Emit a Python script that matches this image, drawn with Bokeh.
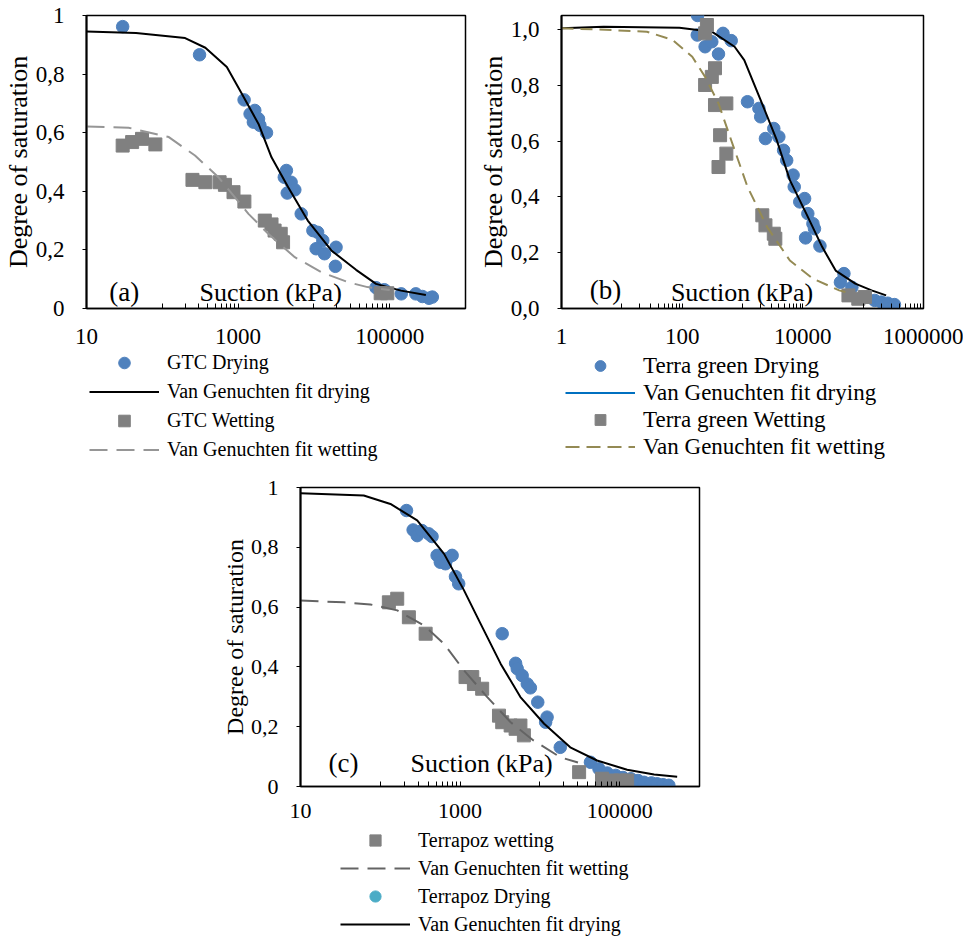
from bokeh.plotting import figure
from bokeh.models import (FixedTicker, Label, Legend, LegendItem, Range1d, Spacer,
                          CustomJSTickFormatter)
from bokeh.layouts import column, row
from bokeh.embed import file_html
from bokeh.resources import INLINE

FONT = "Liberation Serif"
BLUE = "#4F81BD"
GRAY = "#808080"

# ---------------- Panel (a): GTC ----------------
a_dry_x = [30, 310, 1200, 1440, 1660, 1860, 1590, 1940, 2370, 4340, 4070, 5000, 5600, 4450, 6800,
           9700, 11200, 13100, 10700, 13800, 19600, 19200, 66000, 85000, 142000, 221000, 270000,
           330000, 365000]
a_dry_y = [0.962, 0.866, 0.712, 0.664, 0.676, 0.647, 0.636, 0.625, 0.600, 0.471, 0.448, 0.431,
           0.405, 0.394, 0.323, 0.266, 0.260, 0.232, 0.204, 0.187, 0.209, 0.144, 0.071, 0.064,
           0.050, 0.050, 0.041, 0.035, 0.039]
a_wet_x = [30, 40, 54, 81, 250, 370, 570, 670, 870, 1210, 2250, 2760, 3030, 3650, 3920, 76000, 93000]
a_wet_y = [0.556, 0.568, 0.579, 0.560, 0.439, 0.431, 0.431, 0.422, 0.397, 0.365, 0.300, 0.287,
           0.266, 0.255, 0.226, 0.052, 0.052]
a_fitd_x = [10, 45, 200, 370, 710, 1120, 1860, 2760, 4580, 8300, 17000, 36000, 66000, 141000, 300000]
a_fitd_y = [0.945, 0.940, 0.923, 0.890, 0.824, 0.733, 0.630, 0.516, 0.414, 0.300, 0.198, 0.132,
            0.084, 0.061, 0.046]
a_fitw_x = [10, 36, 122, 270, 550, 1370, 2500, 5600, 12600, 28000, 51000, 100000]
a_fitw_y = [0.621, 0.617, 0.585, 0.522, 0.448, 0.323, 0.255, 0.175, 0.124, 0.090, 0.073, 0.063]
a_labels = ["GTC Drying", "Van Genuchten fit drying", "GTC Wetting", "Van Genuchten fit wetting"]

# ---------------- Panel (b): Terra green ----------------
b_dry_x = [180, 178, 240, 310, 475, 650, 400, 1210, 1870, 2000, 2400, 3300, 4000, 4800, 5400, 6900,
           7200, 8900, 10700, 12100, 14700, 15600, 11100, 19200, 48000, 42000, 65000, 155000,
           200000, 255000, 330000]
b_dry_y = [1.05, 0.98, 0.938, 0.956, 0.986, 0.960, 0.912, 0.741, 0.717, 0.687, 0.609, 0.645, 0.615,
           0.567, 0.531, 0.478, 0.436, 0.382, 0.394, 0.340, 0.304, 0.286, 0.253, 0.224, 0.125,
           0.094, 0.076, 0.029, 0.023, 0.019, 0.014]
b_wet_x = [257, 240, 350, 310, 240, 350, 540, 425, 540, 400, 2130, 2400, 3300, 3500, 57000, 83000, 107000]
b_wet_y = [1.016, 0.986, 0.861, 0.830, 0.801, 0.729, 0.735, 0.621, 0.555, 0.507, 0.334, 0.298,
           0.268, 0.250, 0.047, 0.035, 0.041]
b_fitd_x = [1, 5, 90, 310, 740, 1070, 2000, 3700, 6100, 11400, 21000, 35000, 74000, 138000, 240000]
b_fitd_y = [1.004, 1.010, 1.006, 0.992, 0.938, 0.890, 0.747, 0.603, 0.460, 0.340, 0.220, 0.136,
            0.089, 0.065, 0.047]
b_fitw_x = [1, 4, 26, 70, 147, 240, 400, 650, 1210, 2560, 6100, 14700, 40000, 60000]
b_fitw_y = [1.004, 1.000, 0.992, 0.962, 0.902, 0.830, 0.735, 0.603, 0.436, 0.292, 0.172, 0.107,
            0.065, 0.055]
b_labels = ["Terra green Drying", "Van Genuchten fit drying", "Terra green Wetting",
            "Van Genuchten fit wetting"]

# ---------------- Panel (c): Terrapoz ----------------
c_dry_x = [213, 258, 290, 333, 405, 445, 515, 565, 655, 690, 795, 875, 960, 3370, 4960, 5200, 6000,
           6950, 7600, 9400, 12300, 11800, 18000, 43000, 55000, 70000, 89000, 110000, 138000,
           170000, 202000, 250000, 295000, 350000, 413000]
c_dry_y = [0.923, 0.858, 0.839, 0.856, 0.845, 0.836, 0.773, 0.750, 0.745, 0.762, 0.773, 0.702,
           0.678, 0.511, 0.412, 0.394, 0.371, 0.343, 0.330, 0.282, 0.232, 0.215, 0.131, 0.081,
           0.059, 0.045, 0.037, 0.030, 0.026, 0.020, 0.014, 0.012, 0.009, 0.006, 0.004]
c_wet_x = [128, 163, 228, 370, 1170, 1420, 1490, 1890, 3070, 3370, 4300, 4960, 5700, 6300, 31000,
           60000, 81000, 102000, 124000]
c_wet_y = [0.616, 0.628, 0.566, 0.511, 0.366, 0.366, 0.343, 0.327, 0.237, 0.215, 0.204, 0.193,
           0.204, 0.171, 0.048, 0.026, 0.020, 0.020, 0.020]
c_fitd_x = [10, 62, 134, 290, 630, 1120, 1810, 3230, 5700, 11300, 24000, 52000, 124000, 270000, 525000]
c_fitd_y = [0.981, 0.973, 0.945, 0.890, 0.778, 0.656, 0.544, 0.410, 0.299, 0.210, 0.131, 0.087,
            0.056, 0.040, 0.033]
c_fitw_x = [10, 35, 75, 163, 355, 630, 1120, 2190, 4300, 8300, 18000, 30000]
c_fitw_y = [0.622, 0.616, 0.609, 0.589, 0.538, 0.477, 0.388, 0.299, 0.215, 0.154, 0.098, 0.080]
c_labels = ["Terrapoz wetting", "Van Genuchten fit wetting", "Terrapoz Drying",
            "Van Genuchten fit drying"]

# tick values
ac_major_x = [10, 1000, 100000]
ac_minor_x = [100, 200, 300, 400, 500, 600, 700, 800, 900,
              10000, 20000, 30000, 40000, 50000, 60000, 70000, 80000, 90000]
b_major_x = [1, 100, 10000, 1000000]
b_minor_x = [10, 20, 30, 40, 50, 60, 70, 80, 90,
             1000, 2000, 3000, 4000, 5000, 6000, 7000, 8000, 9000,
             100000, 200000, 300000, 400000, 500000, 600000, 700000, 800000, 900000]
y_ticks = [0, 0.2, 0.4, 0.6, 0.8, 1.0]


def base_fig(width, height, xr, yr, bl, br, bt, bb, major_x, minor_x, ytick_fmt,
             tick_size, ytitle_size, xstand):
    p = figure(width=width, height=height, x_axis_type="log",
               x_range=Range1d(*xr), y_range=Range1d(*yr),
               output_backend="svg", toolbar_location=None,
               min_border_left=bl, min_border_right=br, min_border_top=bt, min_border_bottom=bb)
    p.background_fill_color = "white"
    p.border_fill_color = "white"
    p.outline_line_color = "black"
    p.outline_line_width = 1.5
    p.grid.visible = False
    xa = p.xaxis[0]
    xa.ticker = FixedTicker(ticks=major_x, minor_ticks=minor_x)
    xa.formatter = CustomJSTickFormatter(code="return Math.round(tick).toString()")
    xa.major_tick_in = 5
    xa.major_tick_out = 0
    xa.minor_tick_in = 5
    xa.minor_tick_out = 0
    xa.axis_line_width = 1.5
    xa.major_label_standoff = xstand
    xa.major_label_text_font = FONT
    xa.major_label_text_font_size = tick_size
    xa.major_label_text_color = "black"
    ya = p.yaxis[0]
    ya.ticker = FixedTicker(ticks=y_ticks)
    ya.formatter = CustomJSTickFormatter(code=ytick_fmt)
    ya.major_tick_in = 0
    ya.major_tick_out = 4
    ya.minor_tick_line_color = None
    ya.axis_line_width = 2
    ya.major_label_standoff = 18
    ya.major_label_text_font = FONT
    ya.major_label_text_font_size = tick_size
    ya.major_label_text_color = "black"
    ya.axis_label = "Degree of saturation"
    ya.axis_label_text_font = FONT
    ya.axis_label_text_font_size = ytitle_size
    ya.axis_label_text_font_style = "normal"
    ya.axis_label_text_color = "black"
    ya.axis_label_standoff = 0
    return p


def add_text(p, x, y, text, size, baseline="bottom"):
    p.add_layout(Label(x=x, y=y, text=text, x_units="data", y_units="data",
                       text_font=FONT, text_font_size=size, text_baseline=baseline,
                       text_align="left", text_color="black"))


def legend_fig(width, height):
    # a figure that only hosts a legend; its ranges lie away from the data,
    # so its proxy renderers draw nothing but their legend glyphs
    q = figure(width=width, height=height, x_range=Range1d(-2, -1), y_range=Range1d(-2, -1),
               output_backend="svg", toolbar_location=None,
               x_axis_location=None, y_axis_location=None, min_border=0)
    q.outline_line_color = None
    q.grid.visible = False
    q.background_fill_color = "white"
    q.border_fill_color = "white"
    return q


def add_legend(q, items, loc, row_h, font_size):
    lg = Legend(items=items, location=loc, orientation="vertical",
                glyph_width=70, glyph_height=row_h, label_height=row_h, spacing=0,
                padding=0, margin=0, border_line_color=None, background_fill_alpha=0,
                label_text_font=FONT, label_text_font_size=font_size, label_standoff=8,
                label_text_color="black")
    q.add_layout(lg)


FMT_GENERAL = "var v = Math.round(tick*10)/10; return String(v).replace('.', ',');"
FMT_ONE = "return tick.toFixed(1).replace('.', ',');"

# ---- (a)
fa = base_fig(475, 348, (10, 1000000), (0, 1), 84, 10, 15, 40, ac_major_x, ac_minor_x,
              FMT_GENERAL, "23px", "26px", 20)
fa.scatter(a_dry_x, a_dry_y, marker="circle", size=12.5, fill_color=BLUE, line_color=BLUE)
fa.line(a_fitd_x, a_fitd_y, line_color="black", line_width=2)
fa.scatter(a_wet_x, a_wet_y, marker="square", size=13, fill_color=GRAY, line_color=GRAY)
fa.line(a_fitw_x, a_fitw_y, line_color="#969696", line_width=2, line_dash="18 9")
add_text(fa, 310, 0.004, "Suction (kPa)", "26px")
add_text(fa, 20, 0.058, "(a)", "27px", "alphabetic")

la = legend_fig(475, 120)
la1 = la.scatter(a_dry_x, a_dry_y, marker="circle", size=12, fill_color=BLUE, line_color=BLUE)
la2 = la.line(a_fitd_x, a_fitd_y, line_color="black", line_width=2)
la3 = la.scatter(a_wet_x, a_wet_y, marker="square", size=12, fill_color=GRAY, line_color=GRAY)
la4 = la.line(a_fitw_x, a_fitw_y, line_color="#969696", line_width=2, line_dash="18 9")
add_legend(la, [LegendItem(label=a_labels[0], renderers=[la1]),
                LegendItem(label=a_labels[1], renderers=[la2]),
                LegendItem(label=a_labels[2], renderers=[la3]),
                LegendItem(label=a_labels[3], renderers=[la4])], (3, 4), 29, "20px")

# ---- (b)
fb = base_fig(488, 348, (1, 1000000), (0, 1.05), 78, 40, 15, 40, b_major_x, b_minor_x,
              FMT_ONE, "23px", "26px", 20)
fb.scatter(b_dry_x, b_dry_y, marker="circle", size=12.5, fill_color=BLUE, line_color=BLUE)
fb.line(b_fitd_x, b_fitd_y, line_color="black", line_width=2)
fb.scatter(b_wet_x, b_wet_y, marker="square", size=13, fill_color=GRAY, line_color=GRAY)
fb.line(b_fitw_x, b_fitw_y, line_color="#948A54", line_width=2, line_dash="12 7")
add_text(fb, 65, 0.004, "Suction (kPa)", "26px")
add_text(fb, 2.95, 0.065, "(b)", "27px", "alphabetic")

lb = legend_fig(488, 120)
lb1 = lb.scatter(b_dry_x, b_dry_y, marker="circle", size=12, fill_color=BLUE, line_color=BLUE)
lb2 = lb.line(b_fitd_x, b_fitd_y, line_color="#0070C0", line_width=2)
lb3 = lb.scatter(b_wet_x, b_wet_y, marker="square", size=12, fill_color=GRAY, line_color=GRAY)
lb4 = lb.line(b_fitw_x, b_fitw_y, line_color="#948A54", line_width=2, line_dash="14 7")
add_legend(lb, [LegendItem(label=b_labels[0], renderers=[lb1]),
                LegendItem(label=b_labels[1], renderers=[lb2]),
                LegendItem(label=b_labels[2], renderers=[lb3]),
                LegendItem(label=b_labels[3], renderers=[lb4])], (4, 8), 27, "23px")

# ---- (c)
fc = base_fig(509, 358, (10, 1000000), (0, 1), 90, 20, 19, 40, ac_major_x, ac_minor_x,
              FMT_GENERAL, "22px", "24px", 17)
fc.scatter(c_dry_x, c_dry_y, marker="circle", size=12.5, fill_color=BLUE, line_color=BLUE)
fc.line(c_fitd_x, c_fitd_y, line_color="black", line_width=2)
fc.scatter(c_wet_x, c_wet_y, marker="square", size=13, fill_color=GRAY, line_color=GRAY)
fc.line(c_fitw_x, c_fitw_y, line_color="#646464", line_width=2, line_dash="18 9")
add_text(fc, 239, 0.028, "Suction (kPa)", "26px")
add_text(fc, 22.4, 0.077, "(c)", "27px", "alphabetic")

lc = legend_fig(509, 112)
lc1 = lc.scatter(c_wet_x, c_wet_y, marker="square", size=12, fill_color=GRAY, line_color=GRAY)
lc2 = lc.line(c_fitw_x, c_fitw_y, line_color="#646464", line_width=2, line_dash="18 9")
lc3 = lc.scatter(c_dry_x, c_dry_y, marker="circle", size=12, fill_color="#4BACC6", line_color="#4BACC6")
lc4 = lc.line(c_fitd_x, c_fitd_y, line_color="black", line_width=2)
add_legend(lc, [LegendItem(label=c_labels[0], renderers=[lc1]),
                LegendItem(label=c_labels[1], renderers=[lc2]),
                LegendItem(label=c_labels[2], renderers=[lc3]),
                LegendItem(label=c_labels[3], renderers=[lc4])], (40, 0), 28, "20px")

layout = column(row(column(fa, la), column(fb, lb)),
                row(Spacer(width=210, height=470), column(fc, lc)))
open("out.html", "w").write(file_html(layout, INLINE))
